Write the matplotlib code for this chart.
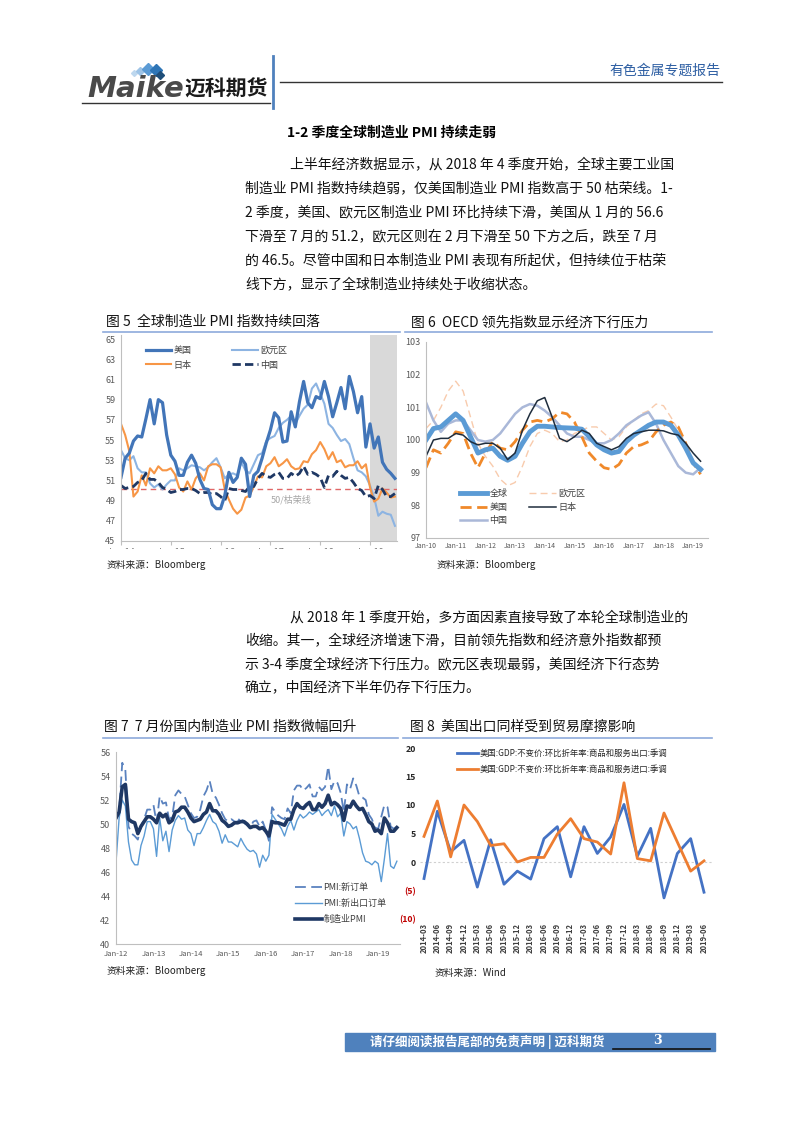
import matplotlib
matplotlib.use('Agg')
import matplotlib.pyplot as plt
from matplotlib.lines import Line2D
from matplotlib.patches import Rectangle
import numpy as np

plt.rcParams['font.family'] = ['Noto Sans CJK SC', 'DejaVu Sans']
plt.rcParams['axes.unicode_minus'] = False

# ---------------- data ----------------
# fig 5: manufacturing PMI, monthly Jan-14 .. Jul-19
us_pmi = [51.3, 53.2, 53.7, 54.9, 55.4, 55.3, 57.1, 59.0, 56.6, 59.0, 58.7, 55.5,
          53.5, 52.9, 51.5, 51.5, 52.8, 53.5, 52.7, 51.1, 50.2, 50.1, 48.6, 48.2,
          48.2, 49.5, 51.8, 50.8, 51.3, 53.2, 52.6, 49.4, 51.5, 51.9, 53.2, 54.7,
          56.0, 57.7, 57.2, 54.8, 54.9, 57.8, 56.3, 58.8, 60.8, 58.7, 58.2, 59.3,
          59.1, 60.8, 59.3, 57.3, 58.7, 60.2, 58.1, 61.3, 59.8, 57.7, 59.3, 54.3,
          56.6, 54.2, 55.3, 52.8, 52.1, 51.7, 51.2]
ez_pmi = [54.0, 53.2, 53.0, 53.4, 52.2, 51.8, 51.8, 50.7, 50.3, 50.6, 50.1, 50.6,
          51.0, 51.0, 52.2, 52.0, 52.2, 52.5, 52.4, 52.3, 52.0, 52.3, 52.8, 53.2,
          52.3, 51.2, 51.6, 51.7, 51.5, 52.8, 52.0, 51.7, 52.6, 53.5, 53.7, 54.9,
          55.2, 55.4, 56.2, 56.7, 57.0, 57.4, 56.6, 57.4, 58.1, 58.5, 60.1, 60.6,
          59.6, 58.6, 56.6, 56.2, 55.5, 54.9, 55.1, 54.6, 53.2, 52.0, 51.8, 51.4,
          50.5, 49.3, 47.5, 47.9, 47.7, 47.6, 46.5]
jp_pmi = [56.6, 55.5, 53.9, 49.4, 49.9, 51.5, 50.5, 52.2, 51.7, 52.4, 52.0, 52.0,
          52.2, 51.6, 50.3, 49.9, 50.9, 50.1, 51.2, 51.7, 51.0, 52.4, 52.6, 52.6,
          52.3, 50.1, 49.1, 48.2, 47.7, 48.1, 49.3, 49.5, 50.4, 51.4, 51.3, 52.4,
          52.7, 53.3, 52.4, 52.7, 53.1, 52.4, 52.1, 52.2, 52.9, 52.8, 53.6, 54.0,
          54.8, 54.1, 53.1, 53.8, 52.8, 53.0, 52.3, 52.5, 52.5, 52.9, 52.2, 52.6,
          50.3, 48.9, 49.2, 50.2, 49.8, 49.3, 49.4]
cn_pmi = [50.5, 50.2, 50.3, 50.4, 50.8, 51.0, 51.7, 51.1, 51.1, 50.8, 50.3, 50.1,
          49.8, 49.9, 50.1, 50.1, 50.2, 50.2, 50.0, 49.7, 49.8, 49.8, 49.6, 49.7,
          49.4, 49.0, 50.2, 50.1, 50.1, 50.0, 49.9, 50.4, 50.4, 51.2, 51.7, 51.4,
          51.3, 51.6, 51.8, 51.2, 51.2, 51.7, 51.4, 51.7, 52.4, 51.6, 51.8, 51.6,
          51.3, 50.3, 51.5, 51.4, 51.9, 51.5, 51.2, 51.3, 50.8, 50.2, 50.0, 49.4,
          49.5, 49.2, 50.5, 50.1, 49.4, 49.4, 49.7]
fig5_ticks = ['Jan-14', 'Jan-15', 'Jan-16', 'Jan-17', 'Jan-18', 'Jan-19']

# fig 6: OECD leading indicators, quarterly Jan-10 .. Apr-19
oecd_world = [100.0, 100.35, 100.4, 100.6, 100.8, 100.6, 100.1, 99.6, 99.7, 99.75,
              99.5, 99.38, 99.5, 99.9, 100.25, 100.42, 100.42, 100.4, 100.38, 100.37,
              100.36, 100.33, 100.1, 99.85, 99.7, 99.6, 99.65, 99.95, 100.15, 100.3,
              100.45, 100.55, 100.55, 100.45, 100.15, 99.75, 99.3, 99.1]
oecd_ez = [100.35, 100.6, 101.0, 101.5, 101.8, 101.5, 100.7, 99.9, 99.5, 99.2,
           98.8, 98.6, 98.7, 99.2, 99.8, 100.2, 100.3, 100.2, 99.95, 100.0,
           100.2, 100.3, 100.4, 100.4, 100.2, 100.0, 100.1, 100.4, 100.6, 100.8,
           100.9, 101.1, 101.05, 100.7, 100.3, 99.9, 99.3, 99.0]
oecd_us = [99.15, 99.7, 99.6, 99.9, 100.25, 100.2, 99.6, 99.15, 99.6, 99.95,
           99.75, 99.7, 99.95, 100.3, 100.55, 100.6, 100.55, 100.65, 100.85, 100.8,
           100.55, 100.1, 99.6, 99.35, 99.15, 99.1, 99.25, 99.6, 99.8, 99.85,
           99.95, 100.25, 100.45, 100.55, 100.4, 99.9, 99.3, 98.95]
oecd_jp = [99.5, 100.0, 100.05, 100.05, 100.2, 100.15, 99.95, 99.85, 99.9, 99.9,
           99.75, 99.4, 99.6, 100.3, 100.8, 101.2, 101.3, 100.7, 100.05, 99.95,
           100.1, 100.3, 100.2, 99.9, 99.8, 99.7, 99.8, 100.05, 100.2, 100.25,
           100.3, 100.3, 100.28, 100.2, 100.15, 99.9, 99.6, 99.35]
oecd_cn = [101.15, 100.6, 100.25, 100.5, 100.6, 100.6, 100.3, 100.0, 99.95, 100.0,
           100.2, 100.5, 100.8, 101.0, 101.1, 101.05, 100.9, 100.7, 100.45, 100.2,
           100.1, 100.1, 100.0, 99.9, 99.9, 100.0, 100.2, 100.45, 100.6, 100.75,
           100.85, 100.5, 100.0, 99.6, 99.2, 99.0, 98.95, 99.15]
fig6_ticks = ['Jan-10', 'Jan-11', 'Jan-12', 'Jan-13', 'Jan-14',
              'Jan-15', 'Jan-16', 'Jan-17', 'Jan-18', 'Jan-19']

# fig 7: China PMI, monthly Jan-12 .. Jul-19
cn_new_orders = [50.4, 51.0, 55.1, 54.5, 49.8, 49.2, 49.0, 48.7, 49.8, 50.4, 51.2, 51.2,
                 51.6, 50.1, 52.3, 51.7, 51.8, 50.4, 50.6, 52.4, 52.8, 52.5, 52.3, 51.6,
                 50.9, 50.5, 50.6, 51.2, 52.3, 52.8, 53.6, 52.5, 52.2, 51.6, 50.9, 50.4,
                 50.2, 50.4, 50.2, 50.2, 50.6, 50.1, 49.9, 49.7, 50.2, 50.3, 49.8, 50.2,
                 49.5, 48.6, 51.4, 51.0, 50.7, 50.5, 50.4, 51.3, 50.9, 52.8, 53.2, 53.2,
                 52.8, 53.0, 53.3, 52.3, 52.3, 53.1, 52.8, 53.1, 54.8, 52.9, 53.6, 53.4,
                 52.6, 51.0, 53.3, 52.9, 53.8, 53.2, 52.3, 52.2, 52.0, 50.8, 50.4, 49.7,
                 49.6, 50.6, 51.6, 51.4, 49.8, 49.6, 49.8]
cn_export_orders = [46.8, 50.5, 52.0, 51.5, 48.5, 47.0, 46.6, 46.6, 48.2, 49.0, 50.2, 50.2,
                    49.6, 47.3, 50.5, 48.6, 49.4, 47.7, 49.5, 50.3, 50.7, 50.4, 50.5, 49.5,
                    49.2, 48.2, 49.2, 49.2, 49.7, 50.3, 50.8, 50.2, 50.0, 49.4, 48.4, 49.1,
                    48.5, 48.5, 48.3, 48.1, 48.8, 48.3, 47.9, 47.7, 47.8, 47.5, 46.4, 47.4,
                    46.9, 47.4, 50.8, 50.4, 50.0, 49.6, 49.0, 49.8, 50.3, 49.5, 50.3, 50.8,
                    50.5, 50.7, 51.0, 50.8, 51.0, 51.2, 50.7, 51.0, 51.2, 50.7, 51.5, 50.6,
                    50.9, 49.0, 50.2, 50.0, 49.6, 49.8, 48.8, 47.6, 46.9, 46.8, 46.6, 46.9,
                    46.7, 45.2, 47.1, 49.2, 46.5, 46.3, 46.9]
cn_mfg_pmi = [50.5, 51.0, 53.1, 53.3, 50.4, 50.2, 50.1, 49.2, 49.8, 50.2, 50.6, 50.6,
              50.4, 50.1, 50.9, 50.6, 50.8, 50.1, 50.3, 51.0, 51.1, 51.4, 51.4, 51.0,
              50.5, 50.2, 50.3, 50.4, 50.8, 51.0, 51.7, 51.1, 51.1, 50.8, 50.3, 50.1,
              49.8, 49.9, 50.1, 50.1, 50.2, 50.2, 50.0, 49.7, 49.8, 49.8, 49.6, 49.7,
              49.4, 49.0, 50.2, 50.1, 50.1, 50.0, 49.9, 50.4, 50.4, 51.2, 51.7, 51.4,
              51.3, 51.6, 51.8, 51.2, 51.2, 51.7, 51.4, 51.7, 52.4, 51.6, 51.8, 51.6,
              51.3, 50.3, 51.5, 51.4, 51.9, 51.5, 51.2, 51.3, 50.8, 50.2, 50.0, 49.4,
              49.5, 49.2, 50.5, 50.1, 49.4, 49.4, 49.7]
fig7_ticks = ['Jan-12', 'Jan-13', 'Jan-14', 'Jan-15', 'Jan-16', 'Jan-17', 'Jan-18', 'Jan-19']

# fig 8: US real exports / imports, q/q saar
quarters = ['2014-03', '2014-06', '2014-09', '2014-12', '2015-03', '2015-06', '2015-09',
            '2015-12', '2016-03', '2016-06', '2016-09', '2016-12', '2017-03', '2017-06',
            '2017-09', '2017-12', '2018-03', '2018-06', '2018-09', '2018-12', '2019-03',
            '2019-06']
us_exports = [-2.9, 8.9, 1.8, 3.8, -4.4, 3.9, -3.9, -1.6, -3.0, 4.1, 6.2,
              -2.6, 6.2, 1.5, 4.4, 10.1, 1.0, 5.9, -6.3, 1.5, 4.1, -5.3]
us_imports = [4.5, 10.7, 0.9, 10.0, 7.1, 2.9, 3.2, 0.0, 0.8, 0.8, 4.9,
              7.6, 4.1, 3.5, 1.4, 13.9, 0.6, 0.2, 8.6, 3.5, -1.6, 0.2]

# ---------------- page ----------------
W, H = 802, 1133
fig = plt.figure(figsize=(W / 100, H / 100), dpi=100)
fig.patch.set_facecolor('white')


def fx(x):
    return x / W


def fy(y):
    return 1 - y / H


def add_ax(l, t, r, b):
    return fig.add_axes([fx(l), fy(b), (r - l) / W, (b - t) / H])


def seg(x0, y0, x1, y1, color, lw):
    fig.add_artist(Line2D([fx(x0), fx(x1)], [fy(y0), fy(y1)], color=color, lw=lw,
                          transform=fig.transFigure))


def ftext(x, y, s, **kw):
    kw.setdefault('va', 'center')
    kw.setdefault('ha', 'left')
    fig.text(fx(x), fy(y), s, **kw)


# header
ftext(87, 89, 'Maike', fontsize=21, fontweight='bold', fontstyle='italic',
      family='DejaVu Sans', color='#4a4a4a')
for (x, y, s, c) in [(134, 73, 3, '#bdd7ee'), (140, 71, 4, '#9dc3e6'),
                     (148, 69, 6, '#5b9bd5'), (156, 70, 6, '#2e75b6'), (160, 75, 4, '#1f4e79')]:
    fig.add_artist(Line2D([fx(x)], [fy(y)], marker='D', ms=s, color=c, lw=0,
                          transform=fig.transFigure))
ftext(184, 89, '迈科期货', fontsize=15, fontweight='bold', color='#1a1a1a')
seg(82, 103, 270, 103, '#333333', 1.0)
seg(273, 56, 273, 108, '#4f81bd', 2.0)
seg(280, 82, 722, 82, '#333333', 1.0)
ftext(720, 71, '有色金属专题报告', ha='right', fontsize=10, color='#2e5fa3')

# section text
ftext(287, 133, '1-2 季度全球制造业 PMI 持续走弱', fontsize=10, fontweight='bold')
para1 = ['上半年经济数据显示，从 2018 年 4 季度开始，全球主要工业国',
         '制造业 PMI 指数持续趋弱，仅美国制造业 PMI 指数高于 50 枯荣线。1-',
         '2 季度，美国、欧元区制造业 PMI 环比持续下滑，美国从 1 月的 56.6',
         '下滑至 7 月的 51.2，欧元区则在 2 月下滑至 50 下方之后，跌至 7 月',
         '的 46.5。尽管中国和日本制造业 PMI 表现有所起伏，但持续位于枯荣',
         '线下方，显示了全球制造业持续处于收缩状态。']
for i, line in enumerate(para1):
    ftext(290 if i == 0 else 245, 164 + 24 * i, line, fontsize=10, color='#111111')

para2 = ['从 2018 年 1 季度开始，多方面因素直接导致了本轮全球制造业的',
         '收缩。其一，全球经济增速下滑，目前领先指数和经济意外指数都预',
         '示 3-4 季度全球经济下行压力。欧元区表现最弱，美国经济下行态势',
         '确立，中国经济下半年仍存下行压力。']
for i, line in enumerate(para2):
    ftext(290 if i == 0 else 245, 617 + 23.5 * i, line, fontsize=10, color='#111111')

# figure titles
title_kw = dict(fontsize=10, color='#111111')
ftext(106, 322, '图 5  全球制造业 PMI 指数持续回落', **title_kw)
ftext(411, 322, '图 6  OECD 领先指数显示经济下行压力', **title_kw)
ftext(104, 727, '图 7  7 月份国内制造业 PMI 指数微幅回升', **title_kw)
ftext(410, 727, '图 8  美国出口同样受到贸易摩擦影响', **title_kw)
seg(103, 332, 400, 332, '#8eaadb', 1.2)
seg(405, 332, 712, 332, '#8eaadb', 1.2)
seg(103, 738, 398, 738, '#8eaadb', 1.2)
seg(403, 738, 712, 738, '#8eaadb', 1.2)

src_kw = dict(fontsize=7, color='#222222')
ftext(107, 565, '资料来源：Bloomberg', **src_kw)
ftext(437, 565, '资料来源：Bloomberg', **src_kw)
ftext(107, 971, '资料来源：Bloomberg', **src_kw)
ftext(435, 973, '资料来源：Wind', **src_kw)

tick_col = '#595959'
spine_col = '#bfbfbf'


def base_axes(ax):
    for s in ['top', 'right']:
        ax.spines[s].set_visible(False)
    for s in ['left', 'bottom']:
        ax.spines[s].set_color(spine_col)
        ax.spines[s].set_linewidth(0.8)
    ax.tick_params(colors=tick_col, labelsize=6.5, length=0)
    ax.set_facecolor('none')


# ---------------- fig 5 ----------------
ax5 = add_ax(121, 335, 397, 541)
base_axes(ax5)
m5 = np.arange(len(us_pmi))
ax5.axvspan(60, 66.5, color='#d9d9d9', lw=0, zorder=0)
ax5.axhline(50.15, color='#e06666', lw=1.0, ls=(0, (4, 3)), zorder=1)
l_ez, = ax5.plot(m5, ez_pmi, color='#8db4e2', lw=1.5, label='欧元区')
l_jp, = ax5.plot(m5, jp_pmi, color='#f79646', lw=1.5, label='日本')
l_cn, = ax5.plot(m5, cn_pmi, color='#1f3864', lw=2.0, ls=(0, (3, 1.5)), label='中国')
l_us, = ax5.plot(m5, us_pmi, color='#4275b8', lw=2.3, label='美国')
ax5.text(36, 49.05, '50/枯荣线', color='#a6a6a6', fontsize=6.5, ha='left', va='center')
ax5.set_xlim(0, 66.5)
ax5.set_ylim(45, 65.4)
ax5.set_yticks(np.arange(45, 66, 2))
ax5.set_xticks(np.arange(0, 61, 12))
ax5.set_xticklabels(fig5_ticks)
ax5.tick_params(axis='x', length=3, color=spine_col, pad=2)
ax5.tick_params(axis='y', pad=4)
ax5.legend(handles=[l_us, l_jp, l_ez, l_cn], ncol=2, loc='upper left',
           bbox_to_anchor=(0.06, 0.985), frameon=False, fontsize=6.5,
           handlelength=2.8, columnspacing=4.5, handletextpad=0.3, labelspacing=0.6,
           labelcolor='#404040')
# the source image cuts the date labels off
fig.add_artist(Rectangle((fx(100), fy(559)), 300 / W, 10 / H, color='white',
                         transform=fig.transFigure, zorder=10))

# ---------------- fig 6 ----------------
ax6 = add_ax(426, 342, 708, 538)
base_axes(ax6)
t6 = np.arange(len(oecd_world)) * 0.25
g_ez, = ax6.plot(t6, oecd_ez, color='#f8cbad', lw=1.0, ls=(0, (5, 3)), label='欧元区')
g_cn, = ax6.plot(t6, oecd_cn, color='#aab8d8', lw=1.8, label='中国')
g_us, = ax6.plot(t6, oecd_us, color='#f0892a', lw=2.0, ls=(0, (4, 2)), label='美国')
g_w, = ax6.plot(t6, oecd_world, color='#5b9bd5', lw=3.5, label='全球')
g_jp, = ax6.plot(t6, oecd_jp, color='#1f2d3d', lw=1.1, label='日本')
ax6.set_xlim(0, 9.5)
ax6.set_ylim(97, 103)
ax6.set_yticks(np.arange(97, 104, 1))
ax6.set_xticks(np.arange(0, 10))
ax6.set_xticklabels(fig6_ticks)
ax6.tick_params(axis='x', labelsize=5, pad=3)
ax6.tick_params(axis='y', pad=4)
ax6.legend(handles=[g_w, g_us, g_cn, g_ez, g_jp], ncol=2, loc='upper left',
           bbox_to_anchor=(0.09, 0.29), frameon=False, fontsize=6.5,
           handlelength=3.0, columnspacing=2.4, handletextpad=0.3, labelspacing=0.5,
           labelcolor='#404040')

# ---------------- fig 7 ----------------
ax7 = add_ax(116, 752, 400, 944)
base_axes(ax7)
m7 = np.arange(len(cn_mfg_pmi))
p_new, = ax7.plot(m7, cn_new_orders, color='#5a82bf', lw=1.3, ls=(0, (6, 3)), label='PMI:新订单')
p_exp, = ax7.plot(m7, cn_export_orders, color='#5b9bd5', lw=1.0, label='PMI:新出口订单')
p_pmi, = ax7.plot(m7, cn_mfg_pmi, color='#1f3864', lw=2.6, label='制造业PMI')
ax7.set_xlim(0, 91)
ax7.set_ylim(40, 56)
ax7.set_yticks(np.arange(40, 57, 2))
ax7.set_xticks(np.arange(0, 85, 12))
ax7.set_xticklabels(fig7_ticks)
ax7.tick_params(axis='x', labelsize=5.5, pad=4)
ax7.tick_params(axis='y', pad=4)
ax7.legend(handles=[p_new, p_exp, p_pmi], loc='upper left', bbox_to_anchor=(0.6, 0.36),
           frameon=False, fontsize=6.5, handlelength=3.0, handletextpad=0.2,
           labelspacing=0.75, labelcolor='#404040')

# ---------------- fig 8 ----------------
ax8 = add_ax(420, 748, 712, 919)
for s in ax8.spines.values():
    s.set_visible(False)
ax8.set_facecolor('none')
q8 = np.arange(len(quarters))
ax8.axhline(0, color='#d0d0d0', lw=0.8, ls=(0, (2, 2)))
e_ln, = ax8.plot(q8, us_exports, color='#4472c4', lw=2.0,
                 label='美国:GDP:不变价:环比折年率:商品和服务出口:季调')
i_ln, = ax8.plot(q8, us_imports, color='#ed7d31', lw=2.0,
                 label='美国:GDP:不变价:环比折年率:商品和服务进口:季调')
ax8.set_xlim(-0.3, 21.6)
ax8.set_ylim(-10, 20)
ax8.set_yticks([-10, -5, 0, 5, 10, 15, 20])
ax8.set_yticklabels(['(10)', '(5)', '0', '5', '10', '15', '20'], fontweight='bold')
for lab, v in zip(ax8.get_yticklabels(), [-10, -5, 0, 5, 10, 15, 20]):
    lab.set_color('#c00000' if v < 0 else '#262626')
ax8.set_xticks(q8)
ax8.set_xticklabels(quarters, rotation=90, fontweight='bold', color='#404040')
ax8.tick_params(length=0, labelsize=6.3)
ax8.tick_params(axis='x', labelsize=5.5, pad=3)
ax8.tick_params(axis='y', pad=3)
ax8.legend(handles=[e_ln, i_ln], loc='upper left', bbox_to_anchor=(0.1, 1.04),
           frameon=False, fontsize=6, handlelength=2.5, handletextpad=0.2,
           labelspacing=0.9, labelcolor='#262626')

# footer
fig.add_artist(Rectangle((fx(345), fy(1051)), 370 / W, 18 / H, color='#4f81bd',
                         transform=fig.transFigure))
ftext(370, 1042, '请仔细阅读报告尾部的免责声明 | 迈科期货', fontsize=9, color='white',
      fontweight='bold')
ftext(653, 1041, '3', fontsize=9, color='white', fontweight='bold', family='DejaVu Serif')
seg(613, 1049, 710, 1049, '#111111', 1.2)

fig.savefig('out.png', dpi=100, facecolor='white')
